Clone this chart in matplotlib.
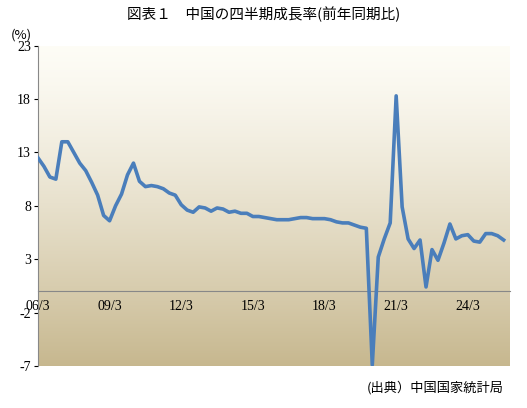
import numpy as np
import matplotlib.pyplot as plt

plt.rcParams['font.family'] = ['Noto Sans CJK JP', 'DejaVu Sans']

# China real GDP growth, year-on-year, quarterly 2006Q1 - 2025Q3
growth = [12.5, 11.7, 10.7, 10.5,
          14.0, 14.0, 13.0, 12.0,
          11.3, 10.2, 9.0, 7.1,
          6.6, 8.0, 9.1, 10.9,
          12.0, 10.3, 9.8, 9.9,
          9.8, 9.6, 9.2, 9.0,
          8.1, 7.6, 7.4, 7.9,
          7.8, 7.5, 7.8, 7.7,
          7.4, 7.5, 7.3, 7.3,
          7.0, 7.0, 6.9, 6.8,
          6.7, 6.7, 6.7, 6.8,
          6.9, 6.9, 6.8, 6.8,
          6.8, 6.7, 6.5, 6.4,
          6.4, 6.2, 6.0, 5.9,
          -6.9, 3.2, 4.9, 6.4,
          18.3, 7.9, 4.9, 4.0,
          4.8, 0.4, 3.9, 2.9,
          4.5, 6.3, 4.9, 5.2,
          5.3, 4.7, 4.6, 5.4,
          5.4, 5.2, 4.8]
tick_pos = [0, 12, 24, 36, 48, 60, 72]
tick_labels = ['06/3', '09/3', '12/3', '15/3', '18/3', '21/3', '24/3']
y_ticks = [-7, -2, 3, 8, 13, 18, 23]

fig = plt.figure(figsize=(5.27, 4.08), dpi=100)
ax = fig.add_axes([0.072, 0.103, 0.895, 0.785])

x = np.arange(len(growth))
xmax = len(growth) - 1 + 1
ax.set_xlim(0, xmax)
ax.set_ylim(-7, 23)

# background gradient
grad = np.linspace(0, 1, 256).reshape(-1, 1)
top = np.array([0.995, 0.99, 0.965])
bot = np.array([0.78, 0.72, 0.56])
img = top + (bot - top) * grad[..., None] ** 1.3
ax.imshow(img.reshape(256, 1, 3), extent=[0, xmax, -7, 23], aspect='auto', zorder=0)

ax.plot(x, growth, color='#4a7ebb', lw=2.6, zorder=3)

ax.spines['bottom'].set_position(('data', 0))
for s in ['top', 'right']:
    ax.spines[s].set_visible(False)
ax.spines['left'].set_color('#888888')
ax.spines['bottom'].set_color('#888888')
ax.set_xticks(tick_pos)
ax.set_xticklabels(tick_labels, fontsize=10, family=['Liberation Serif', 'DejaVu Serif'])
ax.set_yticks(y_ticks)
ax.set_yticklabels([str(v) for v in y_ticks], fontsize=10, family=['Liberation Serif', 'DejaVu Serif'])
ax.tick_params(axis='x', length=0, pad=6)
ax.tick_params(axis='y', length=3, pad=2)

fig.text(0.5, 0.965, '図表１　中国の四半期成長率(前年同期比)', ha='center', va='center', fontsize=10.5)
fig.text(0.02, 0.915, '(%)', ha='left', va='center', fontsize=9.5)
fig.text(0.955, 0.05, '(出典）中国国家統計局', ha='right', va='center', fontsize=9.5)

fig.savefig('out.png', dpi=100)
